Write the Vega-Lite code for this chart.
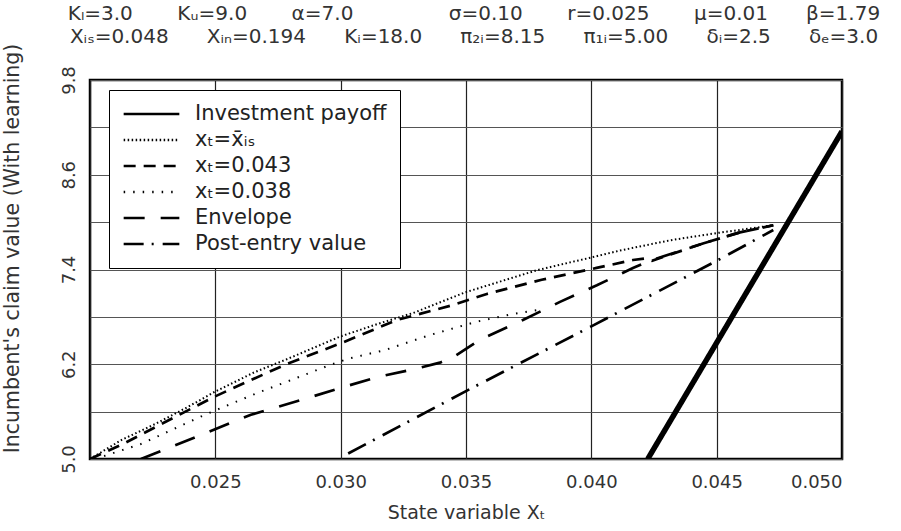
{
  "$schema": "https://vega.github.io/schema/vega-lite/v6.json",
  "width": 752,
  "height": 379,
  "autosize": {"type": "none"},
  "padding": {"left": 90, "top": 80, "right": 59, "bottom": 72},
  "background": "white",
  "title": {
    "text": ["Kₗ=3.0\u00a0\u00a0\u00a0\u00a0\u00a0\u00a0\u00a0Kᵤ=9.0\u00a0\u00a0\u00a0\u00a0\u00a0\u00a0\u00a0α=7.0\u00a0\u00a0\u00a0\u00a0\u00a0\u00a0\u00a0\u00a0\u00a0\u00a0\u00a0\u00a0\u00a0\u00a0\u00a0σ=0.10\u00a0\u00a0\u00a0\u00a0\u00a0\u00a0\u00a0r=0.025\u00a0\u00a0\u00a0\u00a0\u00a0\u00a0\u00a0μ=0.01\u00a0\u00a0\u00a0\u00a0\u00a0\u00a0β=1.79",
             "Xᵢₛ=0.048\u00a0\u00a0\u00a0\u00a0\u00a0\u00a0Xᵢₙ=0.194\u00a0\u00a0\u00a0\u00a0\u00a0\u00a0Kᵢ=18.0\u00a0\u00a0\u00a0\u00a0\u00a0\u00a0π₂ᵢ=8.15\u00a0\u00a0\u00a0\u00a0\u00a0\u00a0π₁ᵢ=5.00\u00a0\u00a0\u00a0\u00a0\u00a0\u00a0δᵢ=2.5\u00a0\u00a0\u00a0\u00a0\u00a0\u00a0δₑ=3.0"],
    "anchor": "middle",
    "frame": "group",
    "font": "DejaVu Sans",
    "fontSize": 20,
    "fontWeight": "normal",
    "color": "#333",
    "lineHeight": 23,
    "offset": -4,
    "dx": 8
  },
  "data": {
    "values": [
      {"s": "Investment payoff", "x": 0.04225, "y": 5.0, "o": 0},
      {"s": "Investment payoff", "x": 0.05, "y": 9.15, "o": 1},

      {"s": "xₜ=x̄ᵢₛ", "x": 0.02, "y": 5.0, "o": 0},
      {"s": "xₜ=x̄ᵢₛ", "x": 0.02125, "y": 5.24, "o": 1},
      {"s": "xₜ=x̄ᵢₛ", "x": 0.02258, "y": 5.44, "o": 2},
      {"s": "xₜ=x̄ᵢₛ", "x": 0.02391, "y": 5.66, "o": 3},
      {"s": "xₜ=x̄ᵢₛ", "x": 0.02497, "y": 5.85, "o": 4},
      {"s": "xₜ=x̄ᵢₛ", "x": 0.02657, "y": 6.1, "o": 5},
      {"s": "xₜ=x̄ᵢₛ", "x": 0.0279, "y": 6.27, "o": 6},
      {"s": "xₜ=x̄ᵢₛ", "x": 0.02997, "y": 6.55, "o": 7},
      {"s": "xₜ=x̄ᵢₛ", "x": 0.03157, "y": 6.72, "o": 8},
      {"s": "xₜ=x̄ᵢₛ", "x": 0.0329, "y": 6.85, "o": 9},
      {"s": "xₜ=x̄ᵢₛ", "x": 0.03496, "y": 7.11, "o": 10},
      {"s": "xₜ=x̄ᵢₛ", "x": 0.03649, "y": 7.26, "o": 11},
      {"s": "xₜ=x̄ᵢₛ", "x": 0.03782, "y": 7.39, "o": 12},
      {"s": "xₜ=x̄ᵢₛ", "x": 0.03915, "y": 7.49, "o": 13},
      {"s": "xₜ=x̄ᵢₛ", "x": 0.03997, "y": 7.55, "o": 14},
      {"s": "xₜ=x̄ᵢₛ", "x": 0.04114, "y": 7.64, "o": 15},
      {"s": "xₜ=x̄ᵢₛ", "x": 0.04314, "y": 7.77, "o": 16},
      {"s": "xₜ=x̄ᵢₛ", "x": 0.04497, "y": 7.86, "o": 17},
      {"s": "xₜ=x̄ᵢₛ", "x": 0.04726, "y": 7.96, "o": 18},

      {"s": "xₜ=0.043", "x": 0.02, "y": 5.0, "o": 0},
      {"s": "xₜ=0.043", "x": 0.02138, "y": 5.2, "o": 1},
      {"s": "xₜ=0.043", "x": 0.02283, "y": 5.44, "o": 2},
      {"s": "xₜ=0.043", "x": 0.02423, "y": 5.67, "o": 3},
      {"s": "xₜ=0.043", "x": 0.02497, "y": 5.79, "o": 4},
      {"s": "xₜ=0.043", "x": 0.02642, "y": 6.0, "o": 5},
      {"s": "xₜ=0.043", "x": 0.0279, "y": 6.21, "o": 6},
      {"s": "xₜ=0.043", "x": 0.03004, "y": 6.47, "o": 7},
      {"s": "xₜ=0.043", "x": 0.03224, "y": 6.76, "o": 8},
      {"s": "xₜ=0.043", "x": 0.03448, "y": 6.95, "o": 9},
      {"s": "xₜ=0.043", "x": 0.03583, "y": 7.09, "o": 10},
      {"s": "xₜ=0.043", "x": 0.03802, "y": 7.27, "o": 11},
      {"s": "xₜ=0.043", "x": 0.04021, "y": 7.42, "o": 12},
      {"s": "xₜ=0.043", "x": 0.04166, "y": 7.52, "o": 13},
      {"s": "xₜ=0.043", "x": 0.04215, "y": 7.54, "o": 14},
      {"s": "xₜ=0.043", "x": 0.04242, "y": 7.51, "o": 15},
      {"s": "xₜ=0.043", "x": 0.04445, "y": 7.73, "o": 16},
      {"s": "xₜ=0.043", "x": 0.04593, "y": 7.87, "o": 17},
      {"s": "xₜ=0.043", "x": 0.04726, "y": 7.96, "o": 18},

      {"s": "xₜ=0.038", "x": 0.0202, "y": 5.0, "o": 0},
      {"s": "xₜ=0.038", "x": 0.02203, "y": 5.19, "o": 1},
      {"s": "xₜ=0.038", "x": 0.02458, "y": 5.56, "o": 2},
      {"s": "xₜ=0.038", "x": 0.0267, "y": 5.84, "o": 3},
      {"s": "xₜ=0.038", "x": 0.02786, "y": 5.98, "o": 4},
      {"s": "xₜ=0.038", "x": 0.02957, "y": 6.19, "o": 5},
      {"s": "xₜ=0.038", "x": 0.0303, "y": 6.27, "o": 6},
      {"s": "xₜ=0.038", "x": 0.03177, "y": 6.38, "o": 7},
      {"s": "xₜ=0.038", "x": 0.03356, "y": 6.57, "o": 8},
      {"s": "xₜ=0.038", "x": 0.03543, "y": 6.74, "o": 9},
      {"s": "xₜ=0.038", "x": 0.03676, "y": 6.83, "o": 10},
      {"s": "xₜ=0.038", "x": 0.03795, "y": 6.89, "o": 11},

      {"s": "Envelope", "x": 0.02203, "y": 5.0, "o": 0},
      {"s": "Envelope", "x": 0.02431, "y": 5.29, "o": 1},
      {"s": "Envelope", "x": 0.02642, "y": 5.56, "o": 2},
      {"s": "Envelope", "x": 0.02866, "y": 5.77, "o": 3},
      {"s": "Envelope", "x": 0.03009, "y": 5.91, "o": 4},
      {"s": "Envelope", "x": 0.03149, "y": 6.04, "o": 5},
      {"s": "Envelope", "x": 0.03297, "y": 6.14, "o": 6},
      {"s": "Envelope", "x": 0.03396, "y": 6.22, "o": 7},
      {"s": "Envelope", "x": 0.03444, "y": 6.28, "o": 8},
      {"s": "Envelope", "x": 0.03556, "y": 6.51, "o": 9},
      {"s": "Envelope", "x": 0.03727, "y": 6.76, "o": 10},
      {"s": "Envelope", "x": 0.03875, "y": 6.99, "o": 11},
      {"s": "Envelope", "x": 0.04022, "y": 7.2, "o": 12},
      {"s": "Envelope", "x": 0.04166, "y": 7.42, "o": 13},
      {"s": "Envelope", "x": 0.04242, "y": 7.52, "o": 14},
      {"s": "Envelope", "x": 0.04445, "y": 7.73, "o": 15},
      {"s": "Envelope", "x": 0.04593, "y": 7.87, "o": 16},
      {"s": "Envelope", "x": 0.04726, "y": 7.96, "o": 17},

      {"s": "Post-entry value", "x": 0.0303, "y": 5.07, "o": 0},
      {"s": "Post-entry value", "x": 0.035, "y": 5.86, "o": 1},
      {"s": "Post-entry value", "x": 0.04, "y": 6.68, "o": 2},
      {"s": "Post-entry value", "x": 0.045, "y": 7.51, "o": 3},
      {"s": "Post-entry value", "x": 0.04726, "y": 7.9, "o": 4}
    ]
  },
  "encoding": {
    "x": {
      "field": "x", "type": "quantitative",
      "scale": {"domain": [0.02, 0.05], "nice": false, "zero": false},
      "axis": {
        "values": [0.02, 0.025, 0.03, 0.035, 0.04, 0.045, 0.05],
        "labelExpr": "datum.value < 0.021 ? '' : format(datum.value, '.3f')",
        "labelPadding": 14,
        "title": "State variable Xₜ",
        "titlePadding": 12,
        "gridColor": "#222",
        "gridWidth": 1.2
      }
    },
    "y": {
      "field": "y", "type": "quantitative",
      "scale": {"domain": [5.0, 9.8], "nice": false, "zero": false},
      "axis": {
        "values": [5.0, 5.6, 6.2, 6.8, 7.4, 8.0, 8.6, 9.2, 9.8],
        "labelExpr": "indexof(['5.0','6.2','7.4','8.6','9.8'], format(datum.value, '.1f')) >= 0 ? format(datum.value, '.1f') : ''",
        "labelAngle": -90,
        "labelAlign": "center",
        "labelBaseline": "bottom",
        "labelPadding": 12,
        "title": "Incumbent's claim value (With learning)",
        "titleFontSize": 20.5,
        "titlePadding": 38,
        "titleY": 168,
        "gridColor": "#555",
        "gridWidth": 1
      }
    },
    "strokeDash": {
      "field": "s", "type": "nominal",
      "scale": {
        "domain": ["Investment payoff", "xₜ=x̄ᵢₛ", "xₜ=0.043", "xₜ=0.038", "Envelope", "Post-entry value"],
        "range": [[1, 0], [1.5, 2.5], [12, 8], [1.5, 8], [21, 16], [20, 8, 2, 9]]
      },
      "legend": {"title": null}
    },
    "order": {"field": "o", "type": "quantitative"}
  },
  "layer": [
    {
      "transform": [{"filter": "datum.s === 'Investment payoff'"}],
      "mark": {"type": "line", "color": "black", "strokeWidth": 5.5, "strokeCap": "butt", "clip": true}
    },
    {
      "transform": [{"filter": "datum.s === 'xₜ=x̄ᵢₛ' || datum.s === 'xₜ=0.038'"}],
      "mark": {"type": "line", "color": "black", "strokeWidth": 2, "strokeCap": "butt", "clip": true}
    },
    {
      "transform": [{"filter": "datum.s === 'xₜ=0.043' || datum.s === 'Envelope' || datum.s === 'Post-entry value'"}],
      "mark": {"type": "line", "color": "black", "strokeWidth": 2.7, "strokeCap": "butt", "clip": true}
    }
  ],
  "config": {
    "font": "DejaVu Sans",
    "view": {"stroke": "black", "strokeWidth": 2.5},
    "axis": {
      "grid": true,
      "domain": false,
      "ticks": false,
      "labelFont": "DejaVu Sans",
      "labelFontSize": 18,
      "labelColor": "#333",
      "titleFont": "DejaVu Sans",
      "titleFontSize": 19,
      "titleFontWeight": "normal",
      "titleColor": "#333"
    },
    "legend": {
      "orient": "none",
      "legendX": 19,
      "legendY": 10,
      "fillColor": "white",
      "strokeColor": "black",
      "padding": 13,
      "clipHeight": 22,
      "symbolType": "stroke",
      "symbolSize": 3100,
      "symbolStrokeWidth": 2.5,
      "symbolStrokeColor": "black",
      "labelFont": "DejaVu Sans",
      "labelFontSize": 21,
      "labelColor": "#222",
      "labelOffset": 14,
      "rowPadding": 4,
      "labelLimit": 400
    }
  }
}
